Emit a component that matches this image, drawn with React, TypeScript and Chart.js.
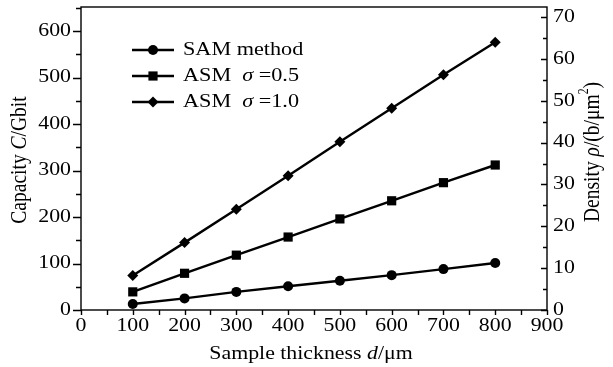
import React, { useEffect, useRef } from "react";
import { Chart, registerables } from "chart.js";

Chart.register(...registerables);

const thickness = [100, 200, 300, 400, 500, 600, 700, 800];
const samMethod = [13, 25, 39, 51, 63, 75, 88, 101];
const asm05 = [39, 79, 118, 157, 196, 235, 274, 312];
const asm10 = [74, 145, 217, 289, 362, 434, 506, 576];
const xTickLabels = [0, 100, 200, 300, 400, 500, 600, 700, 800, 900];
const leftTickLabels = [0, 100, 200, 300, 400, 500, 600];
const rightTickLabels = [0, 10, 20, 30, 40, 50, 60, 70];

type Part = { t: string; i?: boolean; sup?: boolean };
const FAMILY = '"Liberation Serif", "Times New Roman", serif';

function drawRich(
  ctx: CanvasRenderingContext2D,
  parts: Part[],
  x: number,
  y: number,
  size: number,
  align: "left" | "center" | "right",
  rot: number,
  stretch: number
) {
  const fontOf = (p: Part) =>
    `${p.i ? "italic " : ""}${p.sup ? size * 0.6 : size}px ${FAMILY}`;
  const widths = parts.map((p) => {
    ctx.font = fontOf(p);
    return ctx.measureText(p.t).width;
  });
  const W = widths.reduce((a, b) => a + b, 0);
  let cx = align === "center" ? -W / 2 : align === "right" ? -W : 0;
  ctx.save();
  ctx.translate(x, y);
  if (rot !== 0) {
    ctx.rotate(rot);
    ctx.scale(1, stretch);
  } else {
    ctx.scale(stretch, 1);
  }
  ctx.textBaseline = "middle";
  ctx.textAlign = "left";
  ctx.fillStyle = "#000";
  parts.forEach((p, k) => {
    ctx.font = fontOf(p);
    ctx.fillText(p.t, cx, p.sup ? -size * 0.38 : 0);
    cx += widths[k];
  });
  ctx.restore();
}

function drawMarker(ctx: CanvasRenderingContext2D, kind: string, x: number, y: number) {
  ctx.beginPath();
  if (kind === "circle") {
    ctx.arc(x, y, 5, 0, Math.PI * 2);
  } else if (kind === "rect") {
    ctx.rect(x - 4.6, y - 4.6, 9.2, 9.2);
  } else {
    ctx.moveTo(x, y - 5.5);
    ctx.lineTo(x + 5.5, y);
    ctx.lineTo(x, y + 5.5);
    ctx.lineTo(x - 5.5, y);
    ctx.closePath();
  }
  ctx.fill();
}

const legendItems: { parts: Part[]; marker: string }[] = [
  { parts: [{ t: "SAM method" }], marker: "circle" },
  { parts: [{ t: "ASM  " }, { t: "σ", i: true }, { t: " =0.5" }], marker: "rect" },
  { parts: [{ t: "ASM  " }, { t: "σ", i: true }, { t: " =1.0" }], marker: "rectRot" },
];

const decorPlugin = {
  id: "decor",
  afterDraw(chart: any) {
    const ctx: CanvasRenderingContext2D = chart.ctx;
    const { left, right, top, bottom } = chart.chartArea;
    const xs = chart.scales.x;
    const ys = chart.scales.y;
    const y2 = chart.scales.y2;
    ctx.save();
    ctx.strokeStyle = "#000";
    ctx.lineWidth = 1.4;
    ctx.strokeRect(left, top, right - left, bottom - top);
    ctx.beginPath();
    for (let v = 0; v <= 900; v += 50) {
      const px = Math.round(xs.getPixelForValue(v)) + 0.5;
      ctx.moveTo(px, bottom);
      ctx.lineTo(px, bottom + 5);
    }
    for (let v = 0; v <= 650; v += 50) {
      const py = Math.round(ys.getPixelForValue(v)) + 0.5;
      const len = v % 100 === 0 ? 8 : 5;
      ctx.moveTo(left - len, py);
      ctx.lineTo(left, py);
    }
    for (let v = 0; v <= 70; v += 5) {
      const py = Math.round(y2.getPixelForValue(v)) + 0.5;
      const len = v % 10 === 0 ? 6 : 4;
      ctx.moveTo(right - len, py);
      ctx.lineTo(right, py);
    }
    ctx.stroke();

    const fs = 18.5;
    const st = 1.18;
    xTickLabels.forEach((v) => {
      drawRich(ctx, [{ t: String(v) }], xs.getPixelForValue(v), bottom + 16, fs, "center", 0, st);
    });
    leftTickLabels.forEach((v) => {
      drawRich(ctx, [{ t: String(v) }], left - 10, ys.getPixelForValue(v), fs, "right", 0, st);
    });
    rightTickLabels.forEach((v) => {
      drawRich(ctx, [{ t: String(v) }], right + 6, y2.getPixelForValue(v), fs, "left", 0, st);
    });

    drawRich(
      ctx,
      [{ t: "Capacity " }, { t: "C", i: true }, { t: "/Gbit" }],
      20,
      160,
      19.5,
      "center",
      -Math.PI / 2,
      1.22
    );
    drawRich(
      ctx,
      [{ t: "Density " }, { t: "ρ", i: true }, { t: "/(b/μm" }, { t: "2", sup: true }, { t: ")" }],
      593,
      152,
      19.5,
      "center",
      -Math.PI / 2,
      1.22
    );
    drawRich(
      ctx,
      [{ t: "Sample thickness " }, { t: "d", i: true }, { t: "/μm" }],
      311,
      354,
      18.5,
      "center",
      0,
      1.18
    );

    const rows = [50, 76, 102];
    legendItems.forEach((it, k) => {
      const yy = rows[k];
      ctx.strokeStyle = "#000";
      ctx.fillStyle = "#000";
      ctx.lineWidth = 2.4;
      ctx.beginPath();
      ctx.moveTo(132, yy);
      ctx.lineTo(174, yy);
      ctx.stroke();
      drawMarker(ctx, it.marker, 153, yy);
      drawRich(ctx, it.parts, 183, yy, 18.5, "left", 0, 1.2);
    });
    ctx.restore();
  },
};

export default function App() {
  const ref = useRef<HTMLCanvasElement | null>(null);
  useEffect(() => {
    document.body.style.margin = "0";
    const canvas = ref.current;
    if (!canvas) return;
    const mk = (vals: number[]) => thickness.map((x, i) => ({ x, y: vals[i] }));
    const base = {
      borderColor: "#000",
      backgroundColor: "#000",
      pointBackgroundColor: "#000",
      pointBorderColor: "#000",
      borderWidth: 2.4,
      pointBorderWidth: 0,
      tension: 0,
      yAxisID: "y",
    };
    const chart = new Chart(canvas, {
      type: "line",
      data: {
        datasets: [
          { ...base, label: "SAM method", data: mk(samMethod), pointStyle: "circle", pointRadius: 5 },
          { ...base, label: "ASM σ=0.5", data: mk(asm05), pointStyle: "rect", pointRadius: 6.5 },
          { ...base, label: "ASM σ=1.0", data: mk(asm10), pointStyle: "rectRot", pointRadius: 5.5 },
        ],
      },
      options: {
        animation: false,
        responsive: false,
        devicePixelRatio: 1,
        layout: { padding: { left: 81, right: 66, top: 7, bottom: 57 } },
        plugins: { legend: { display: false }, tooltip: { enabled: false } },
        scales: {
          x: { type: "linear", min: 0, max: 900, display: false },
          y: { type: "linear", min: 0, max: 652, display: false },
          y2: { type: "linear", position: "right", min: 0, max: 72.4, display: false },
        },
      },
      plugins: [decorPlugin],
    } as any);
    return () => chart.destroy();
  }, []);
  return (
    <div style={{ width: 613, height: 367, background: "#fff" }}>
      <canvas ref={ref} width={613} height={367} style={{ display: "block" }} />
    </div>
  );
}
